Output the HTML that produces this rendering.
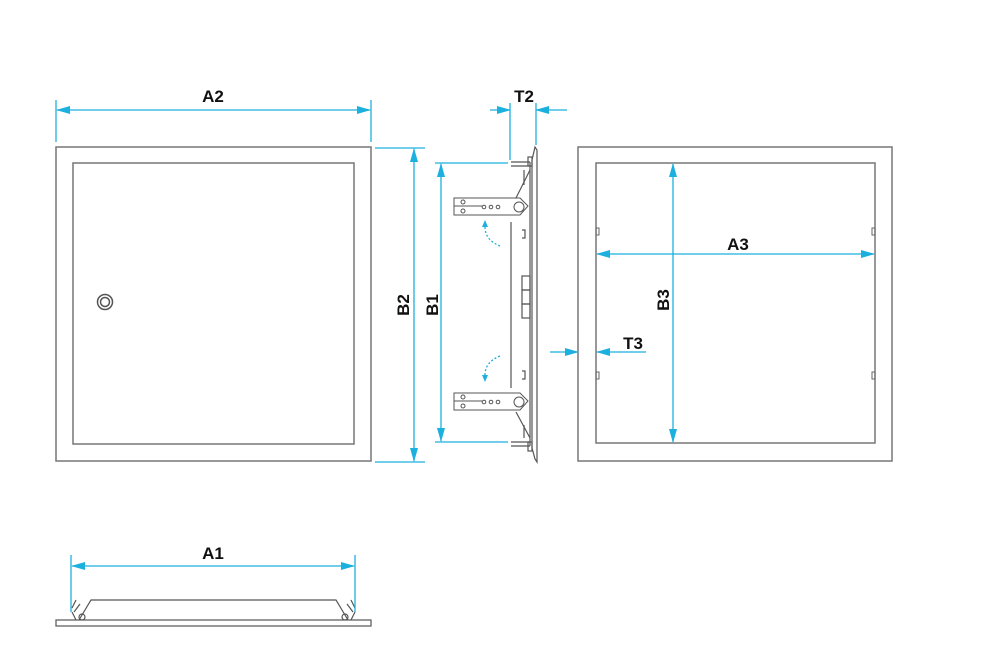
<!DOCTYPE html>
<html><head><meta charset="utf-8"><style>
html,body{margin:0;padding:0;background:#fff;}
svg{display:block;}
text{font-family:"Liberation Sans",sans-serif;font-weight:bold;font-size:17px;fill:#111;}
</style></head><body>
<svg width="1000" height="668" viewBox="0 0 1000 668" xmlns="http://www.w3.org/2000/svg">
<defs>
<marker id="ar" markerWidth="14" markerHeight="8" refX="13" refY="4" orient="auto" markerUnits="userSpaceOnUse">
<path d="M0,0 L14,4 L0,8 z" fill="#1cb0df"/></marker>
<g id="br">
<path d="M454,198 L520,198 L528,206 L520,215 L454,215 z" fill="#fff" stroke="#555" stroke-width="1"/>
<line x1="454" y1="206" x2="482" y2="206" stroke="#555" stroke-width="1"/>
<circle cx="463" cy="202" r="2" fill="none" stroke="#555"/>
<circle cx="463" cy="211" r="2" fill="none" stroke="#555"/>
<circle cx="484" cy="207" r="1.8" fill="none" stroke="#555"/>
<circle cx="491" cy="207" r="1.8" fill="none" stroke="#555"/>
<circle cx="498" cy="207" r="1.8" fill="none" stroke="#555"/>
<circle cx="519" cy="207" r="5" fill="none" stroke="#555"/>
</g>
</defs>
<g fill="none" stroke="#777" stroke-width="1.5">
<rect x="56" y="147" width="315" height="314"/>
<rect x="73" y="163" width="281" height="281"/>
<rect x="578" y="147" width="314" height="314"/>
<rect x="596" y="163" width="279" height="280"/>
</g>
<circle cx="105" cy="302" r="7.5" fill="none" stroke="#555" stroke-width="1.5"/>
<circle cx="105" cy="302" r="4.5" fill="none" stroke="#555" stroke-width="1.5"/>
<g fill="none" stroke="#666" stroke-width="1">
<rect x="596" y="228" width="3" height="7"/><rect x="872" y="228" width="3" height="7"/>
<rect x="596" y="372" width="3" height="7"/><rect x="872" y="372" width="3" height="7"/>
</g>
<!-- side view -->
<g fill="none" stroke="#555" stroke-width="1.2">
<path d="M532,160 L535,147 L537,150 L537,462 L535,459 L532,448 z"/>
<line x1="530" y1="162" x2="530" y2="446"/>
<line x1="511" y1="222" x2="511" y2="388"/>
<line x1="511" y1="162" x2="530" y2="162"/><line x1="511" y1="166" x2="530" y2="166"/>
<line x1="511" y1="442" x2="530" y2="442"/><line x1="511" y1="446" x2="530" y2="446"/>
<rect x="528" y="157" width="4" height="9"/><rect x="528" y="442" width="4" height="9"/>
<line x1="530" y1="170" x2="516" y2="198"/><line x1="524" y1="170" x2="524" y2="185"/>
<line x1="530" y1="438" x2="516" y2="412"/><line x1="524" y1="438" x2="524" y2="425"/>
<rect x="522" y="276" width="8" height="14"/><rect x="522" y="290" width="8" height="14"/><rect x="522" y="304" width="8" height="14"/>
<path d="M522,230 h3 v8 h-3"/><path d="M522,371 h3 v8 h-3"/>
</g>
<use href="#br"/>
<use href="#br" transform="translate(0,195)"/>
<g fill="none" stroke="#1cb0df" stroke-width="1.3" stroke-dasharray="2,2">
<path d="M485,227 Q485,240 500,246"/><path d="M500,356 Q485,362 485,375"/>
</g>
<path d="M482,227 L485,220 L488,227 z" fill="#1cb0df"/>
<path d="M482,375 L485,382 L488,375 z" fill="#1cb0df"/>
<!-- bottom view -->
<g fill="none" stroke="#555" stroke-width="1.2">
<rect x="56" y="620" width="315" height="6"/>
<path d="M79,620 L91,600 L336,600 L348,620"/>
<path d="M72,608 L76,600 M74,612 L80,604 M72,612 L76,620"/>
<path d="M355,608 L351,600 M353,612 L347,604 M355,612 L351,620"/>
<circle cx="82" cy="617" r="3"/><circle cx="345" cy="617" r="3"/>
</g>
<!-- dimension lines -->
<g stroke="#1cb0df" stroke-width="1.3" fill="none">
<line x1="56" y1="100" x2="56" y2="142"/><line x1="371" y1="100" x2="371" y2="142"/>
<line x1="200" y1="110" x2="57" y2="110" marker-end="url(#ar)"/><line x1="200" y1="110" x2="370" y2="110" marker-end="url(#ar)"/>
<line x1="375" y1="148" x2="425" y2="148"/><line x1="375" y1="462" x2="425" y2="462"/>
<line x1="414" y1="300" x2="414" y2="149" marker-end="url(#ar)"/><line x1="414" y1="300" x2="414" y2="461" marker-end="url(#ar)"/>
<line x1="435" y1="163" x2="508" y2="163"/><line x1="435" y1="442" x2="508" y2="442"/>
<line x1="441" y1="300" x2="441" y2="164" marker-end="url(#ar)"/><line x1="441" y1="300" x2="441" y2="441" marker-end="url(#ar)"/>
<line x1="510" y1="103" x2="510" y2="160"/><line x1="536" y1="103" x2="536" y2="145"/>
<line x1="490" y1="110" x2="510" y2="110" marker-end="url(#ar)"/><line x1="567" y1="110" x2="536" y2="110" marker-end="url(#ar)"/>
<line x1="735" y1="254" x2="597" y2="254" marker-end="url(#ar)"/><line x1="735" y1="254" x2="874" y2="254" marker-end="url(#ar)"/>
<line x1="673" y1="300" x2="673" y2="164" marker-end="url(#ar)"/><line x1="673" y1="300" x2="673" y2="442" marker-end="url(#ar)"/>
<line x1="550" y1="352" x2="578" y2="352" marker-end="url(#ar)"/><line x1="646" y1="352" x2="597" y2="352" marker-end="url(#ar)"/>
<line x1="71" y1="555" x2="71" y2="612"/><line x1="355" y1="555" x2="355" y2="612"/>
<line x1="213" y1="566" x2="72" y2="566" marker-end="url(#ar)"/><line x1="213" y1="566" x2="354" y2="566" marker-end="url(#ar)"/>
</g>
<text x="213" y="102" text-anchor="middle">A2</text>
<text x="524" y="102" text-anchor="middle">T2</text>
<text x="738" y="250" text-anchor="middle">A3</text>
<text x="633" y="349" text-anchor="middle">T3</text>
<text x="213" y="559" text-anchor="middle">A1</text>
<text transform="translate(409,305) rotate(-90)" text-anchor="middle">B2</text>
<text transform="translate(438,305) rotate(-90)" text-anchor="middle">B1</text>
<text transform="translate(669,300) rotate(-90)" text-anchor="middle">B3</text>
</svg>
</body></html>
